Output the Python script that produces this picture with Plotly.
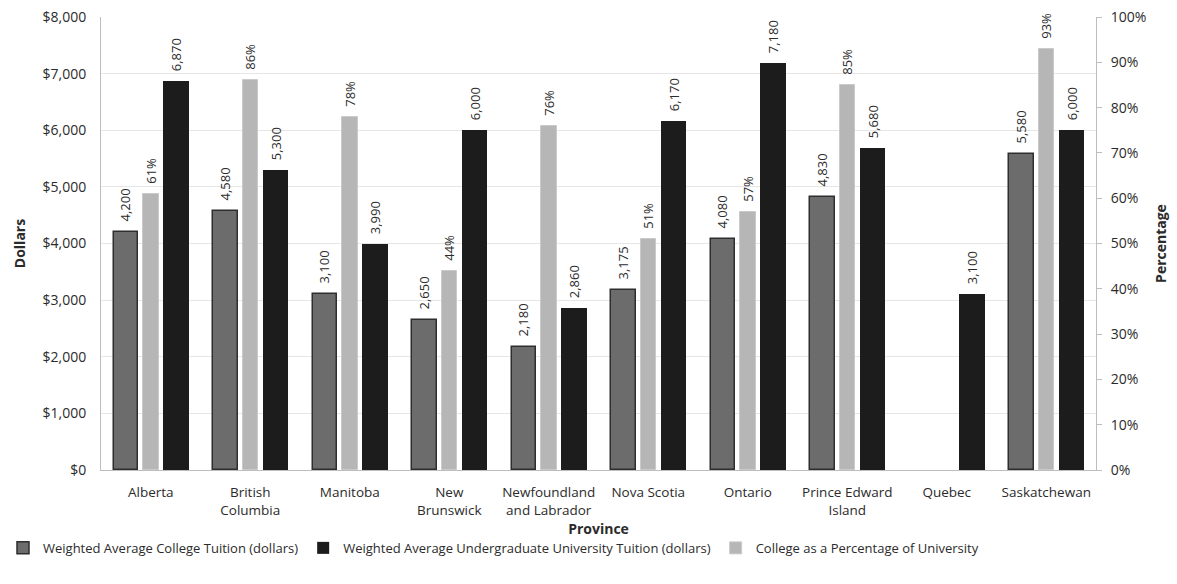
import plotly.graph_objects as go

provinces = ["Alberta", "British<br>Columbia", "Manitoba", "New<br>Brunswick",
             "Newfoundland<br>and Labrador", "Nova Scotia", "Ontario",
             "Prince Edward<br>Island", "Quebec", "Saskatchewan"]
college_tuition = [4200, 4580, 3100, 2650, 2180, 3175, 4080, 4830, None, 5580]
university_tuition = [6870, 5300, 3990, 6000, 2860, 6170, 7180, 5680, 3100, 6000]
college_pct = [61, 86, 78, 44, 76, 51, 57, 85, None, 93]

FONT = "Open Sans"
TXT = "#2b2b2b"
PAD = "\u00a0\u00a0"  # small gap between bar top and its rotated label


def money_labels(values):
    return [PAD + f"{v:,}" if v is not None else "" for v in values]


fig = go.Figure()

fig.add_trace(go.Bar(
    x=provinces, y=college_tuition,
    name="Weighted Average College Tuition (dollars)",
    marker=dict(color="#6c6c6c", line=dict(color="#2e2e2e", width=1.5)),
    offset=-0.37, width=0.245,
    text=money_labels(college_tuition),
    textposition="outside", textangle=-90, cliponaxis=False,
    constraintext="none",
    textfont=dict(family=FONT, size=13, color=TXT),
    legendrank=1,
))

fig.add_trace(go.Bar(
    x=provinces, y=college_pct,
    name="College as a Percentage of University",
    marker=dict(color="#b6b6b6", line=dict(color="#cacaca", width=1)),
    offset=-0.075, width=0.155,
    text=[PAD + f"{v}%" if v is not None else "" for v in college_pct],
    textposition="outside", textangle=-90, cliponaxis=False,
    constraintext="none",
    textfont=dict(family=FONT, size=13, color=TXT),
    yaxis="y2", legendrank=3,
))

fig.add_trace(go.Bar(
    x=provinces, y=university_tuition,
    name="Weighted Average Undergraduate University Tuition (dollars)",
    marker=dict(color="#1c1c1c", line=dict(width=0)),
    offset=0.125, width=0.255,
    text=money_labels(university_tuition),
    textposition="outside", textangle=-90, cliponaxis=False,
    constraintext="none",
    textfont=dict(family=FONT, size=13, color=TXT),
    legendrank=2,
))

fig.update_layout(
    width=1177, height=584,
    margin=dict(l=101, r=81, t=17, b=114, autoexpand=False),
    paper_bgcolor="white", plot_bgcolor="white",
    font=dict(family=FONT, size=14, color=TXT),
    barmode="overlay",
    xaxis=dict(
        title=dict(text="<b>Province</b>", font=dict(size=14, color=TXT), standoff=4),
        showline=True, linecolor="#bdbdbd", linewidth=1,
        ticks="", tickfont=dict(size=13.5, color=TXT), ticklabelstandoff=10,
        range=[-0.5, 9.5], automargin=False,
    ),
    yaxis=dict(
        title=dict(text="<b>Dollars</b>", font=dict(size=14, color=TXT), standoff=13),
        range=[0, 8000], dtick=1000, tickformat="$,",
        showgrid=True, gridcolor="#e6e6e6", gridwidth=1,
        showline=True, linecolor="#bdbdbd", linewidth=1,
        ticks="", tickfont=dict(size=14, color=TXT), ticklabelstandoff=11,
        zeroline=False, automargin=False,
    ),
    yaxis2=dict(
        title=dict(text="<b>Percentage</b>", font=dict(size=14, color=TXT), standoff=10),
        overlaying="y", side="right",
        range=[0, 100], dtick=10, ticksuffix="%",
        showgrid=False, showline=True, linecolor="#bdbdbd", linewidth=1,
        ticks="outside", ticklen=5, tickcolor="#bdbdbd", ticklabelstandoff=6,
        tickfont=dict(size=14, color=TXT), zeroline=False, automargin=False,
    ),
    legend=dict(
        orientation="h", x=-0.0985, xanchor="left", y=-0.172, yanchor="middle",
        font=dict(size=13, color=TXT), traceorder="normal",
        itemwidth=30,
    ),
    bargap=0, showlegend=True,
)

fig.write_html("out.html")
